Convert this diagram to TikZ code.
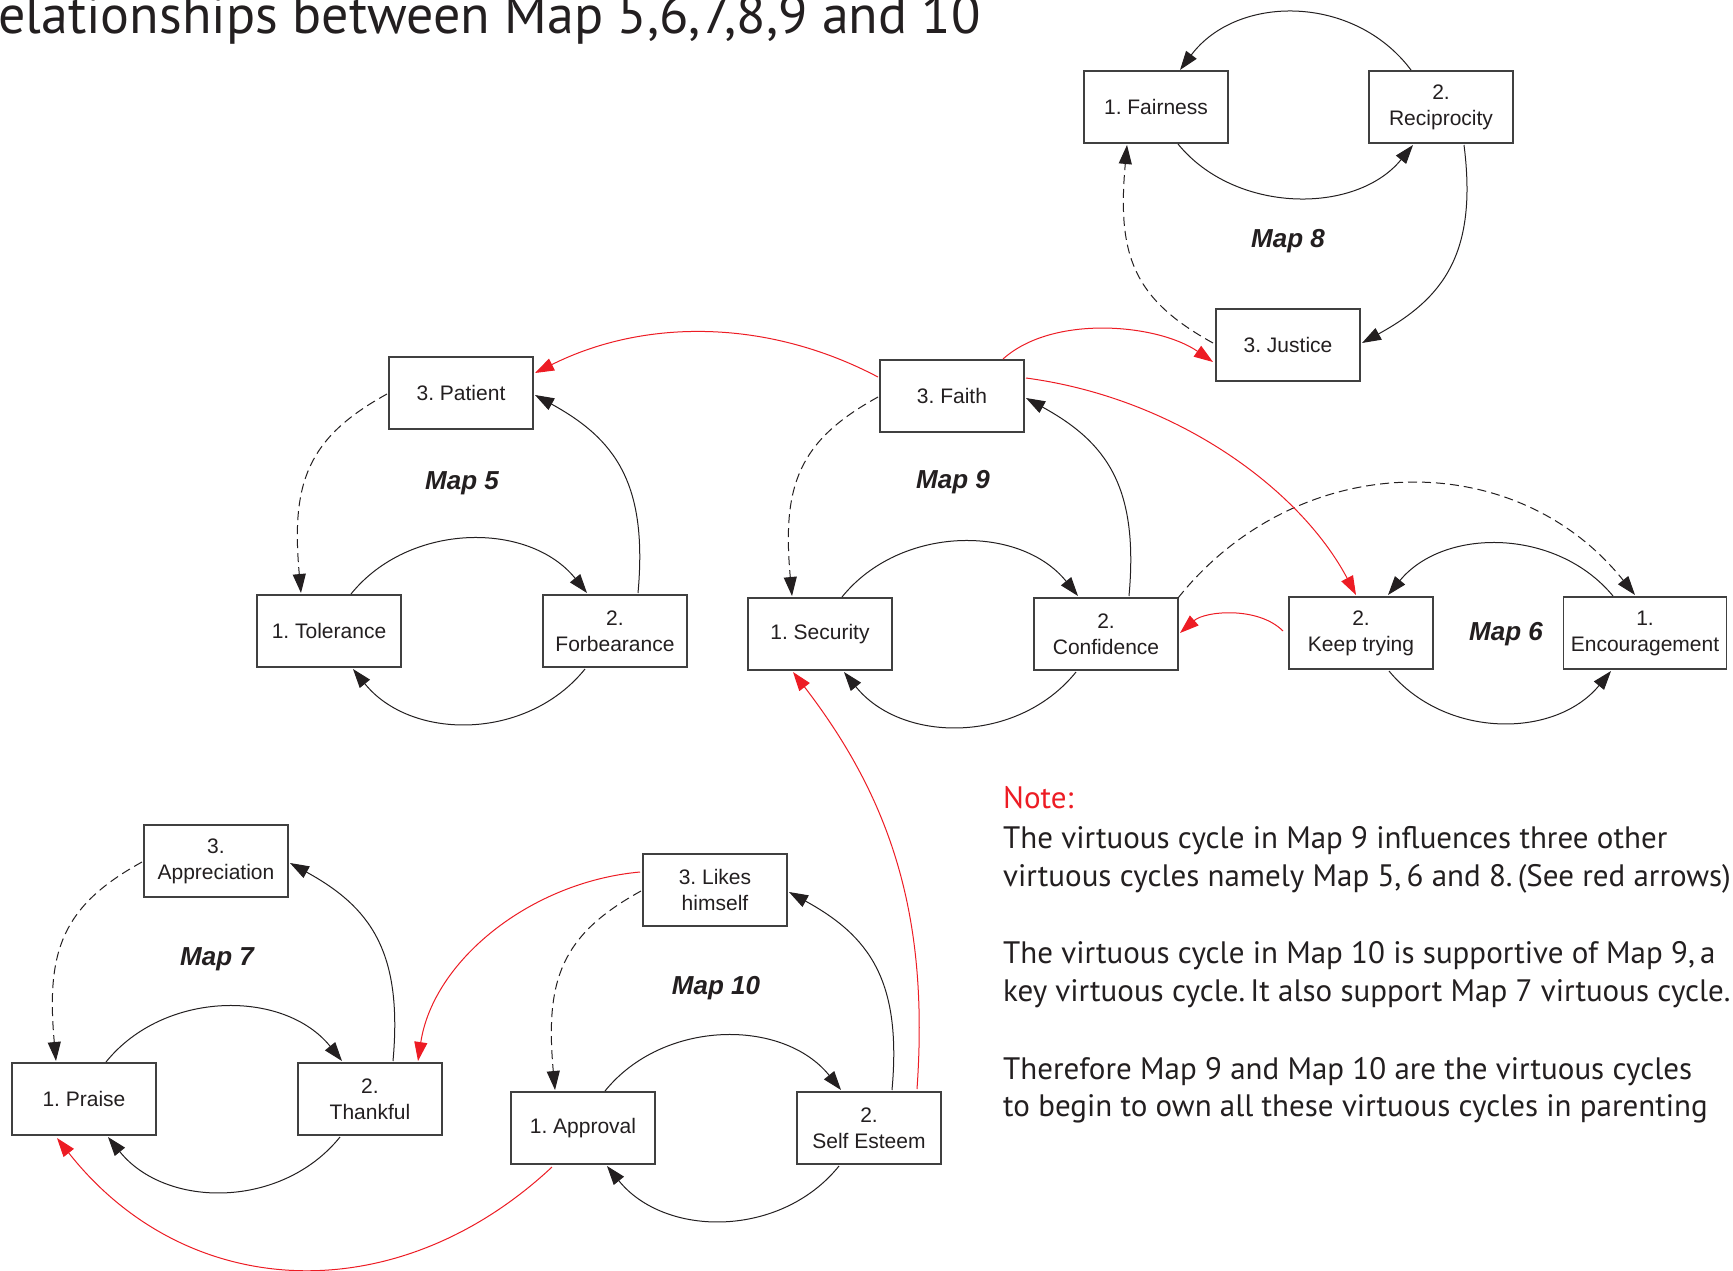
\documentclass[tikz,border=0pt]{standalone}
\usepackage{fontspec}
\setmainfont{Liberation Sans}
\newfontfamily\notefont{PT Sans}
\usetikzlibrary{arrows.meta,calc}
\definecolor{redc}{RGB}{237,28,36}
\definecolor{linec}{RGB}{35,31,32}
\definecolor{boxc}{RGB}{64,64,64}
\frenchspacing
\begin{document}
\frenchspacing
\begin{tikzpicture}[x=1pt,y=-1pt,
  box/.style={draw=boxc, line width=1.2pt, fill=white, minimum width=144pt, minimum height=72pt,
    inner sep=0pt, outer sep=0pt, align=center, font=\fontsize{21}{26}\selectfont, text=linec},
  maplbl/.style={font=\fontsize{26}{30}\selectfont\bfseries\itshape, text=linec, inner sep=0pt},
  conn/.style={draw=linec, line width=1pt, -{Triangle[length=19pt,width=13pt]}},
  dconn/.style={conn, dash pattern=on 9pt off 5pt},
  rconn/.style={draw=redc, line width=1pt, -{Triangle[length=19pt,width=13pt]}},
  notetxt/.style={font=\notefont\fontsize{31}{37}\selectfont, text=linec, anchor=base west, inner sep=0pt}
]
\useasboundingbox (0,0) rectangle (1733,1270);
\fill[white] (0,0) rectangle (1733,1270);

% title
\node[anchor=base west, inner sep=0pt, font=\notefont\fontsize{54}{64}\selectfont, text=linec] (title) at (-2,33) {elationships between Map 5,6,7,8,9 and 10};

% boxes
\node[box] (fair) at (1156,107) {1. Fairness};
\node[box] (recip) at (1441,107) {2.\\Reciprocity};
\node[box] (just) at (1288,345) {3. Justice};
\node[box] (pat) at (461,393) {3. Patient};
\node[box] (tol) at (329,631) {1. Tolerance};
\node[box] (forb) at (615,631) {2.\\Forbearance};
\node[box] (faith) at (952,396) {3. Faith};
\node[box] (sec) at (820,634) {1. Security};
\node[box] (conf) at (1106,634) {2.\\Confidence};
\node[box] (keep) at (1361,633) {2.\\Keep trying};
\node[box, minimum width=163pt] (enc) at (1645,633) {1.\\Encouragement};
\node[box] (appr) at (216,861) {3.\\Appreciation};
\node[box] (praise) at (84,1099) {1. Praise};
\node[box] (thank) at (370,1099) {2.\\Thankful};
\node[box] (likes) at (715,890) {3. Likes\\himself};
\node[box] (appv) at (583,1128) {1. Approval};
\node[box] (self) at (869,1128) {2.\\Self Esteem};

% map labels
\node[maplbl] (m8) at (1288,241) {Map 8};
\node[maplbl] (m5) at (462,483) {Map 5};
\node[maplbl] (m9) at (953,482) {Map 9};
\node[maplbl] (m6) at (1506,634) {Map 6};
\node[maplbl] (m7) at (217,959) {Map 7};
\node[maplbl] (m10) at (716,988) {Map 10};

% standard cycles (1 -> 2 -> 3 -> 1, plus 2 -> 1)
\foreach \a/\b/\c in {tol/forb/pat, sec/conf/faith, praise/thank/appr, appv/self/likes}{
  \draw[conn] ($(\a)+(22,-37)$) .. controls +(58,-72) and +(-58,-72) .. ($(\b)+(-28,-38)$);
  \draw[conn] ($(\b)+(-30,38)$) .. controls +(-58,72) and +(58,72) .. ($(\a)+(24,38)$);
  \draw[conn] ($(\b)+(23,-38)$) .. controls +(10,-110) and +(80,44) .. ($(\c)+(74,2)$);
  \draw[dconn] ($(\c)+(-74,1)$) .. controls +(-80,44) and +(-10,-110) .. ($(\a)+(-28,-38)$);
}

% Map 8
\draw[conn] ($(recip)+(-30,-37)$) .. controls +(-57,-76) and +(57,-76) .. ($(fair)+(24,-37)$);
\draw[conn] ($(fair)+(22,37)$) .. controls +(57,70) and +(-57,70) .. ($(recip)+(-28,38)$);
\draw[conn] ($(recip)+(23,38)$) .. controls +(14,110) and +(80,-44) .. ($(just)+(74,-2)$);
\draw[dconn] ($(just)+(-75,-2)$) .. controls +(-80,-44) and +(-10,110) .. ($(fair)+(-29,38)$);

% Map 6
\draw[conn] ($(enc)+(-32,-37)$) .. controls +(-56,-68) and +(56,-68) .. ($(keep)+(27,-38)$);
\draw[conn] ($(keep)+(28,38)$) .. controls +(56,68) and +(-56,68) .. ($(enc)+(-34,38)$);
\draw[dconn] (conf.north east) .. controls +(120,-150) and +(-120,-150) .. ($(enc)+(-10,-38)$);

% red influence arrows
\draw[rconn] ($(faith)+(-74,-19)$) .. controls +(-110,-58) and +(110,-55) .. ($(pat)+(74,-20)$);
\draw[rconn] ($(faith)+(51,-37)$) .. controls +(50,-45) and +(-55,-38) .. ($(just)+(-75,17)$);
\draw[rconn] ($(faith)+(74,-18)$) .. controls +(150,20) and +(-56,-106) .. ($(keep)+(-5,-38)$);
\draw[rconn] ($(keep)+(-78,-2)$) .. controls +(-25,-25) and +(25,-22) .. ($(conf)+(74,-1)$);
\draw[rconn] ($(likes)+(-75,-18)$) .. controls +(-110,10) and +(15,-100) .. ($(thank)+(48,-38)$);
\draw[rconn] ($(appv)+(-31,39)$) .. controls +(-155,145) and +(130,165) .. ($(praise)+(-27,39)$);
\draw[rconn] ($(self)+(48,-39)$) .. controls +(12,-170) and +(100,130) .. ($(sec)+(-27,38)$);

% note
\node[notetxt, text=redc] (n0) at (1003,808) {Note:};
\node[notetxt] (n1) at (1003,848) {The virtuous cycle in Map 9 influences three other};
\node[notetxt] (n2) at (1003,886) {virtuous cycles namely Map 5,\,6 and 8.\,(See red arrows)};
\node[notetxt] (n3) at (1003,963) {The virtuous cycle in Map 10 is supportive of Map 9,\,a};
\node[notetxt] (n4) at (1003,1001) {key virtuous cycle.\,It also support Map 7 virtuous cycle.};
\node[notetxt] (n5) at (1003,1079) {Therefore Map 9 and Map 10 are the virtuous cycles};
\node[notetxt] (n6) at (1003,1116) {to begin to own all these virtuous cycles in parenting};
\end{tikzpicture}
\end{document}
